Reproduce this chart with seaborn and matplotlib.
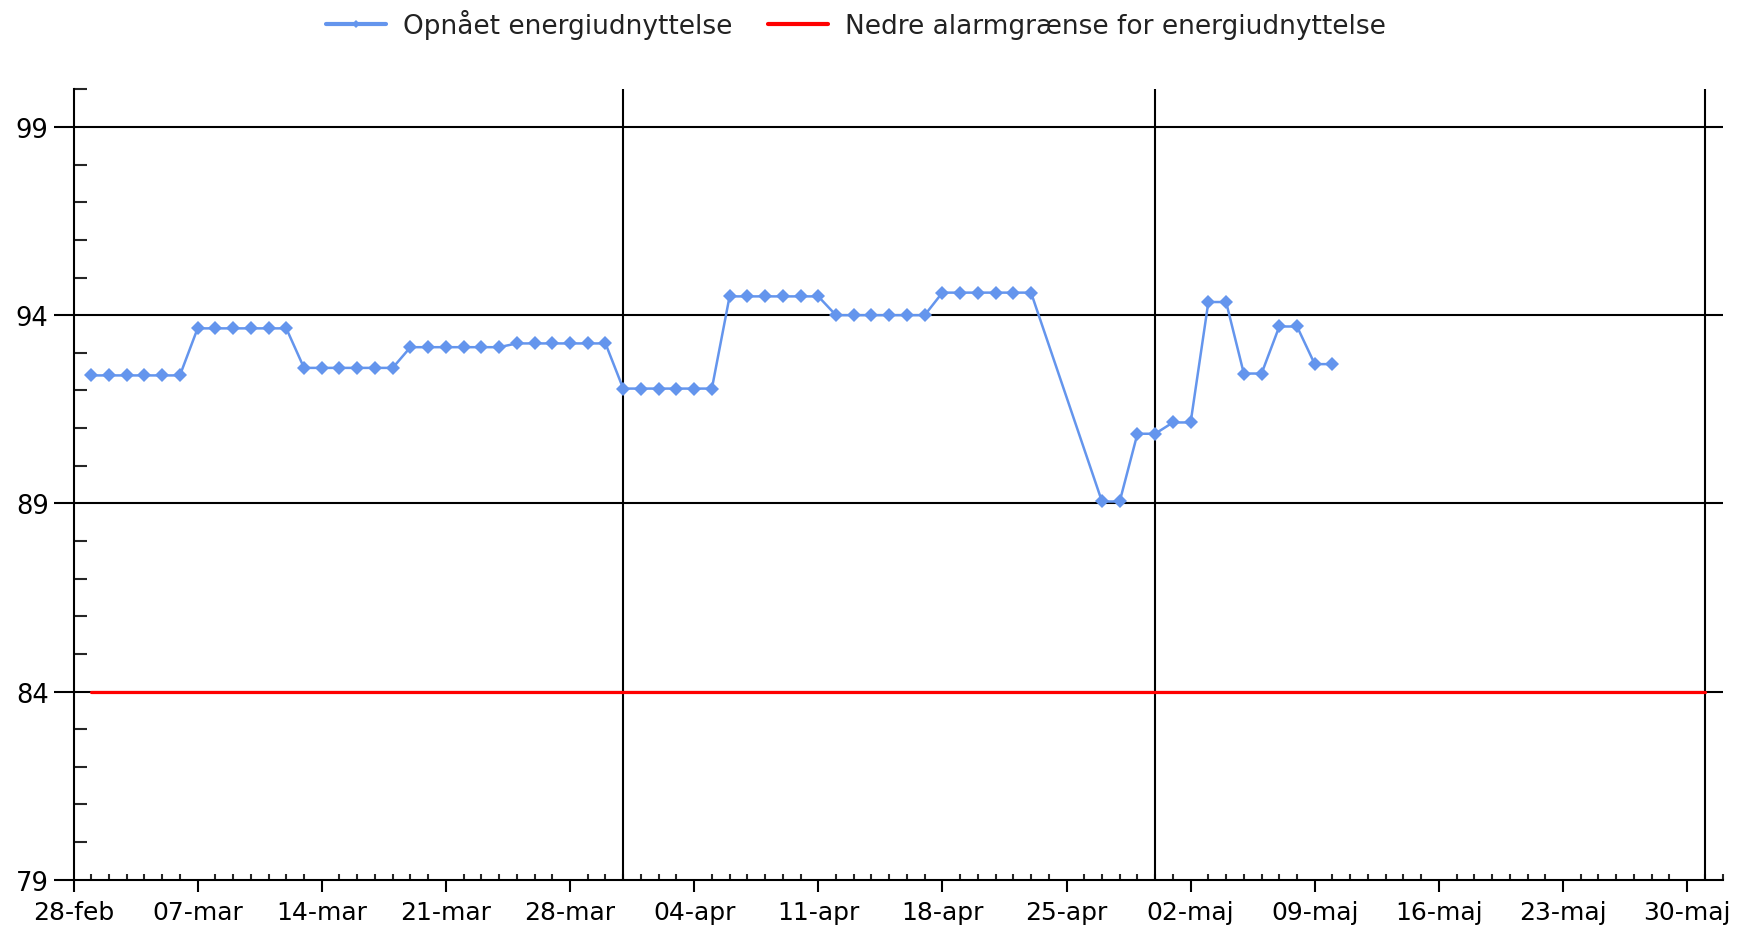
import matplotlib
matplotlib.use("Agg")
import matplotlib.pyplot as plt
import matplotlib.dates as mdates
from matplotlib.ticker import FixedLocator, MultipleLocator, FuncFormatter
from matplotlib.lines import Line2D
import seaborn as sns
import pandas as pd

# ---------------- data ----------------
dates = [
    "2023-03-01", "2023-03-02", "2023-03-03", "2023-03-04", "2023-03-05", "2023-03-06",
    "2023-03-07", "2023-03-08", "2023-03-09", "2023-03-10", "2023-03-11", "2023-03-12",
    "2023-03-13", "2023-03-14", "2023-03-15", "2023-03-16", "2023-03-17", "2023-03-18",
    "2023-03-19", "2023-03-20", "2023-03-21", "2023-03-22", "2023-03-23", "2023-03-24",
    "2023-03-25", "2023-03-26", "2023-03-27", "2023-03-28", "2023-03-29", "2023-03-30",
    "2023-03-31", "2023-04-01", "2023-04-02", "2023-04-03", "2023-04-04", "2023-04-05",
    "2023-04-06", "2023-04-07", "2023-04-08", "2023-04-09", "2023-04-10", "2023-04-11",
    "2023-04-12", "2023-04-13", "2023-04-14", "2023-04-15", "2023-04-16", "2023-04-17",
    "2023-04-18", "2023-04-19", "2023-04-20", "2023-04-21", "2023-04-22", "2023-04-23",
    "2023-04-27", "2023-04-28", "2023-04-29", "2023-04-30",
    "2023-05-01", "2023-05-02", "2023-05-03", "2023-05-04", "2023-05-05", "2023-05-06",
    "2023-05-07", "2023-05-08", "2023-05-09", "2023-05-10",
]
energy = [
    92.4, 92.4, 92.4, 92.4, 92.4, 92.4,
    93.65, 93.65, 93.65, 93.65, 93.65, 93.65,
    92.6, 92.6, 92.6, 92.6, 92.6, 92.6,
    93.15, 93.15, 93.15, 93.15, 93.15, 93.15,
    93.25, 93.25, 93.25, 93.25, 93.25, 93.25,
    92.05, 92.05, 92.05, 92.05, 92.05, 92.05,
    94.5, 94.5, 94.5, 94.5, 94.5, 94.5,
    94.0, 94.0, 94.0, 94.0, 94.0, 94.0,
    94.6, 94.6, 94.6, 94.6, 94.6, 94.6,
    89.05, 89.05, 90.85, 90.85,
    91.15, 91.15, 94.35, 94.35, 92.45, 92.45,
    93.7, 93.7, 92.7, 92.7,
]
alarm_dates = ["2023-03-01", "2023-05-31"]
alarm_values = [84, 84]

tick_dates = ["2023-02-28", "2023-03-07", "2023-03-14", "2023-03-21", "2023-03-28",
              "2023-04-04", "2023-04-11", "2023-04-18", "2023-04-25", "2023-05-02",
              "2023-05-09", "2023-05-16", "2023-05-23", "2023-05-30"]
month_lines = ["2023-03-31", "2023-04-30", "2023-05-31"]
danish_months = ["jan", "feb", "mar", "apr", "maj", "jun", "jul", "aug", "sep", "okt", "nov", "dec"]
y_ticks = [79, 84, 89, 94, 99]
series_names = ["Opnået energiudnyttelse", "Nedre alarmgrænse for energiudnyttelse"]

# ---------------- plot ----------------
sns.set_theme(style="white")
plt.rcParams['font.family'] = ['DejaVu Sans']

W, H = 1745, 929
PX = 72 / 100  # points per pixel at dpi 100
fig = plt.figure(figsize=(W / 100, H / 100), dpi=100)
left, right, bottom, top = 73.5, 1722.6, 880.7, 90.4
ax = fig.add_axes([left / W, 1 - bottom / H, (right - left) / W, (bottom - top) / H])

df = pd.DataFrame({"date": pd.to_datetime(dates), "value": energy})
adf = pd.DataFrame({"date": pd.to_datetime(alarm_dates), "value": alarm_values})

blue = "#6495ED"
red = "#FF0000"

sns.lineplot(data=adf, x="date", y="value", color=red, lw=2.3, ax=ax, zorder=3)
sns.lineplot(data=df, x="date", y="value", color=blue, lw=1.8, marker="D",
             markersize=7.5, markeredgewidth=0, ax=ax, zorder=4)

ax.set_xlim(pd.Timestamp("2023-02-28"), pd.Timestamp("2023-06-01"))
ax.set_ylim(79, 100)

# gridlines
for y in y_ticks[1:]:
    ax.axhline(y, color="black", lw=1.5, zorder=1)
for d in month_lines:
    ax.axvline(pd.Timestamp(d), color="black", lw=1.5, zorder=1)

# ticks
ax.xaxis.set_major_locator(FixedLocator(mdates.date2num(pd.to_datetime(tick_dates))))
ax.xaxis.set_minor_locator(mdates.DayLocator())
ax.xaxis.set_major_formatter(FuncFormatter(
    lambda v, p: f"{mdates.num2date(v).day:02d}-{danish_months[mdates.num2date(v).month - 1]}"))
ax.yaxis.set_major_locator(FixedLocator(y_ticks))
ax.yaxis.set_minor_locator(MultipleLocator(1))

ax.tick_params(axis="x", which="major", direction="out", length=12 * PX, width=1.5,
               labelsize=18, pad=8 * PX, colors="black", bottom=True)
ax.tick_params(axis="x", which="minor", direction="in", length=6 * PX, width=1.5, bottom=True)
ax.tick_params(axis="y", which="major", direction="out", length=20 * PX, width=1.5,
               labelsize=18.5, pad=5 * PX, colors="black", left=True)
ax.tick_params(axis="y", which="minor", direction="in", length=13 * PX, width=1.5, left=True)

for s in ["top", "right"]:
    ax.spines[s].set_visible(False)
for s in ["left", "bottom"]:
    ax.spines[s].set_color("black")
    ax.spines[s].set_linewidth(1.5)

ax.set_xlabel("")
ax.set_ylabel("")
ax.grid(False)

handles = [
    Line2D([0], [0], color=blue, lw=3, marker="D", markersize=4, markeredgewidth=0),
    Line2D([0], [0], color=red, lw=3),
]
fig.legend(handles, series_names, loc="center", bbox_to_anchor=(0.4906, 0.973),
           ncol=2, frameon=False, fontsize=19, handlelength=2.27, handletextpad=0.64,
           columnspacing=1.36, labelcolor="#222222")

fig.savefig("out.png", dpi=100)
